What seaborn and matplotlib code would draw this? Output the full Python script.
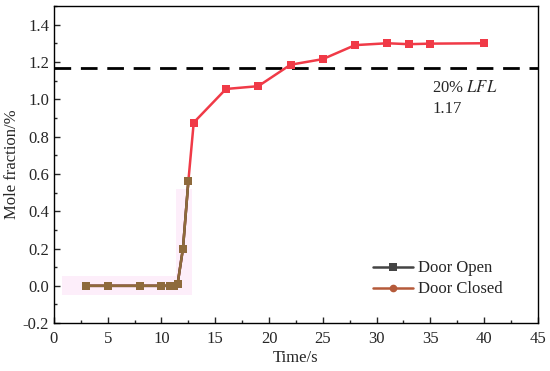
import numpy as np
import pandas as pd
import matplotlib
matplotlib.use("Agg")
import matplotlib.pyplot as plt
import seaborn as sns
from matplotlib.patches import Rectangle
from matplotlib.ticker import MultipleLocator

# data
time_all = [3, 5, 8, 10, 10.8, 11.2, 11.5, 12, 12.5, 13, 16, 19, 22, 25, 28, 31, 33, 35, 40]
frac_all = [0.0, 0.0, 0.0, 0.0, 0.0, 0.0, 0.01, 0.20, 0.56, 0.875, 1.055, 1.07, 1.185, 1.215, 1.29, 1.30, 1.295, 1.298, 1.30]

time_door = [3, 5, 8, 10, 10.8, 11.2, 11.5, 12, 12.5]
frac_door = [0.0, 0.0, 0.0, 0.0, 0.0, 0.0, 0.01, 0.20, 0.56]

lfl_value = 1.17

sns.set_style("ticks")
plt.rcParams['font.family'] = ['Liberation Serif', 'DejaVu Serif']
plt.rcParams['mathtext.fontset'] = 'stix'

fig = plt.figure(figsize=(5.5, 3.71), dpi=100)
ax = fig.add_axes([0.098, 0.129, 0.88, 0.855])

# faint pink highlight boxes seen in the original
pink = '#fdeefa'
ax.add_patch(Rectangle((0.75, -0.05), 12.05, 0.10, color=pink, zorder=0, lw=0))
ax.add_patch(Rectangle((11.35, -0.05), 1.45, 0.57, color=pink, zorder=0, lw=0))

df_all = pd.DataFrame({'t': time_all, 'y': frac_all})
df_door = pd.DataFrame({'t': time_door, 'y': frac_door})

sns.lineplot(data=df_all, x='t', y='y', ax=ax, color='#f03a47', lw=1.8,
             marker='s', markersize=5.5, markeredgewidth=0, zorder=3)
sns.lineplot(data=df_door, x='t', y='y', ax=ax, color='#444444', lw=1.8,
             marker='s', markersize=5.5, markeredgewidth=0, label='Door Open', zorder=4)
sns.lineplot(data=df_door, x='t', y='y', ax=ax, color='#8e6a3c', lw=1.8,
             marker='s', markersize=5.5, markeredgewidth=0, zorder=5, legend=False)
# legend handle for closed door (circle marker)
ax.plot([], [], color='#b55a3a', lw=1.8, marker='o', markersize=4.5, label='Door Closed')

ax.axhline(lfl_value, color='black', lw=2, ls=(0, (6, 3.5)), zorder=2)
ax.text(35.2, 1.04, r'20% $\mathit{LFL}$', fontsize=12)
ax.text(35.2, 0.925, f'{lfl_value:.2f}', fontsize=12)

ax.set_xlim(0, 45)
ax.set_ylim(-0.2, 1.5)
ax.xaxis.set_major_locator(MultipleLocator(5))
ax.xaxis.set_minor_locator(MultipleLocator(2.5))
ax.yaxis.set_major_locator(MultipleLocator(0.2))
ax.yaxis.set_minor_locator(MultipleLocator(0.1))
ax.yaxis.set_major_formatter(matplotlib.ticker.FormatStrFormatter('%.1f'))
ax.tick_params(which='both', direction='in', top=False, right=False, labelsize=12)
ax.tick_params(axis='x', which='major', pad=6)
ax.tick_params(which='major', length=4, width=1)
ax.tick_params(which='minor', length=2.5, width=1)
for s in ax.spines.values():
    s.set_linewidth(1)
    s.set_color('black')

ax.set_xlabel('Time/s', fontsize=12, labelpad=2)
ax.set_ylabel('Mole fraction/%', fontsize=12, labelpad=2)

leg = ax.legend(loc='lower right', frameon=False, fontsize=12,
                bbox_to_anchor=(0.94, 0.06), borderaxespad=0, handlelength=2.4,
                handletextpad=0.3, labelspacing=0.3)

fig.savefig('out.png', dpi=100)
